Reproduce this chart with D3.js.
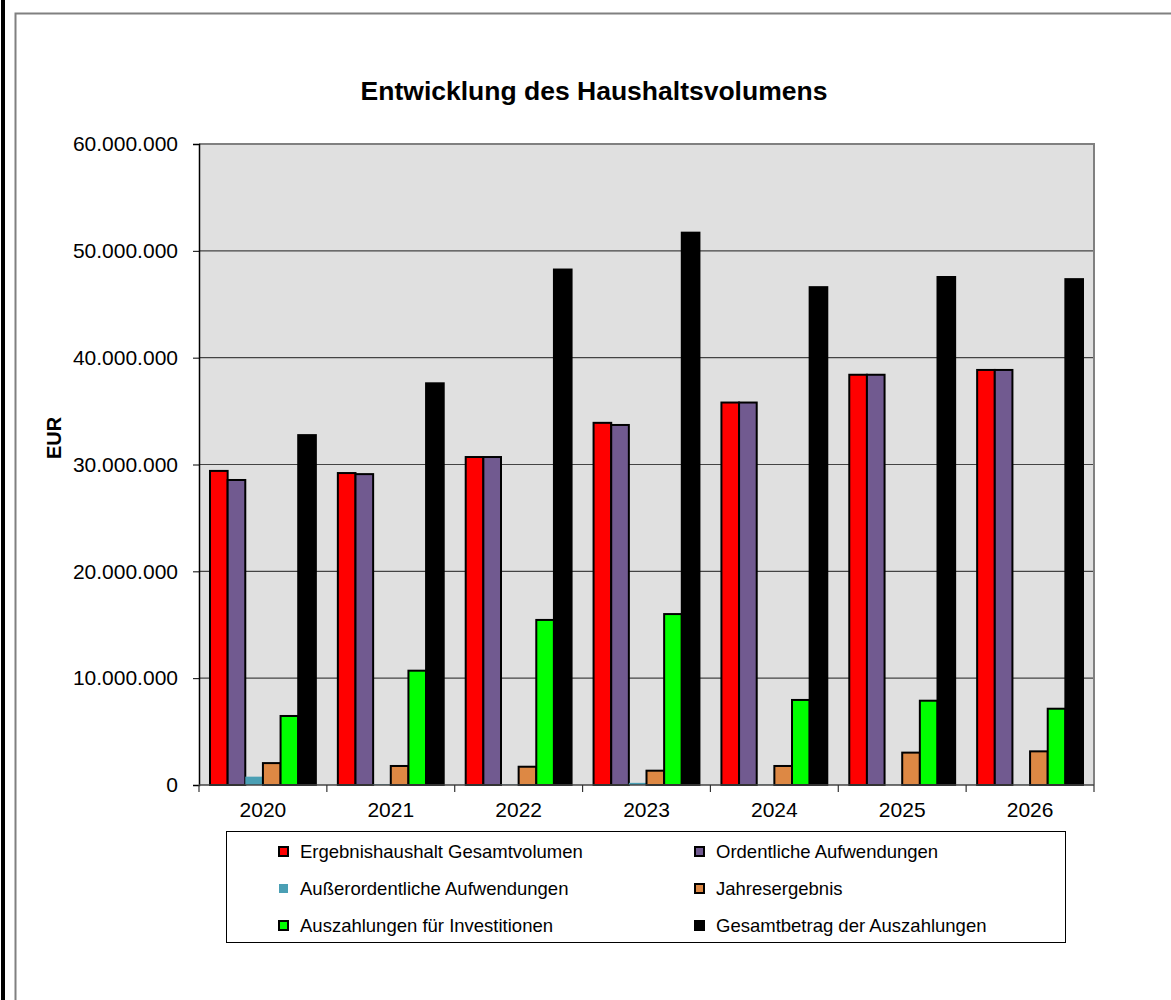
<!DOCTYPE html>
<html>
<head>
<meta charset="utf-8">
<script src="https://cdn.jsdelivr.net/npm/d3@7"></script>
<style>
  html, body { margin: 0; padding: 0; background: #fff; }
  svg { display: block; font-family: "Liberation Sans", Arial, sans-serif; }
</style>
</head>
<body>
<svg id="chart" width="1171" height="1000"></svg>
<script>
// Haushaltsjahre
const years = ["2020", "2021", "2022", "2023", "2024", "2025", "2026"];

// Reihen (EUR)
const ergebnishaushalt = [29400000, 29200000, 30700000, 33900000, 35800000, 38400000, 38850000];
const ordentlicheAufw  = [28550000, 29100000, 30700000, 33700000, 35800000, 38400000, 38850000];
const ausserordAufw    = [780000, 50000, 30000, 200000, 20000, 10000, 10000];
const jahresergebnis   = [2050000, 1780000, 1710000, 1340000, 1780000, 3030000, 3150000];
const investitionen    = [6460000, 10700000, 15450000, 16000000, 7960000, 7890000, 7140000];
const gesamtAuszahl    = [32750000, 37600000, 48250000, 51700000, 46600000, 47550000, 47350000];

const seriesNames = [
  "Ergebnishaushalt Gesamtvolumen",
  "Ordentliche Aufwendungen",
  "Außerordentliche Aufwendungen",
  "Jahresergebnis",
  "Auszahlungen für Investitionen",
  "Gesamtbetrag der Auszahlungen"
];
const seriesValues = [ergebnishaushalt, ordentlicheAufw, ausserordAufw, jahresergebnis, investitionen, gesamtAuszahl];
const seriesColors = ["#ff0000", "#715a90", "#4a9fb4", "#dd8844", "#00ff00", "#000000"];
const seriesStroke = [true, true, false, true, true, true];

const yTicks = [0, 10000000, 20000000, 30000000, 40000000, 50000000, 60000000];

const FONT = "Liberation Sans, Arial, sans-serif";
const svg = d3.select("#chart");

// outer frame
svg.append("rect").attr("x", 1).attr("y", 0).attr("width", 4).attr("height", 1000).attr("fill", "#000");
svg.append("path").attr("d", "M15.5,1000 V13.5 H1171")
  .attr("fill", "none").attr("stroke", "#808080").attr("stroke-width", 2);

const plot = { left: 199, top: 144, right: 1094, bottom: 785 };

const y = d3.scaleLinear().domain([0, 60000000]).range([plot.bottom, plot.top]);
const x0 = d3.scaleBand().domain(years).range([plot.left, plot.right]).padding(0);
const gapFrac = 0.086;
const x1 = d3.scaleBand().domain(d3.range(seriesNames.length))
  .range([x0.bandwidth() * gapFrac, x0.bandwidth() * (1 - gapFrac)]).padding(0);

// plot background
svg.append("rect")
  .attr("x", plot.left).attr("y", plot.top)
  .attr("width", plot.right - plot.left).attr("height", plot.bottom - plot.top)
  .attr("fill", "#e0e0e0");

// gridlines
svg.append("g").selectAll("line").data(yTicks.filter(d => d > 0 && d < 60000000)).join("line")
  .attr("x1", plot.left).attr("x2", plot.right)
  .attr("y1", d => y(d)).attr("y2", d => y(d))
  .attr("stroke", "#444").attr("stroke-width", 1.2);

// plot border top and right
svg.append("path")
  .attr("d", `M${plot.left},${plot.top} H${plot.right} V${plot.bottom}`)
  .attr("fill", "none").attr("stroke", "#808080").attr("stroke-width", 2);

// bars
const groups = svg.append("g").selectAll("g").data(years).join("g")
  .attr("transform", d => `translate(${x0(d)},0)`);

groups.selectAll("rect")
  .data((yr, i) => seriesValues.map((vals, s) => ({ s, v: vals[i] })))
  .join("rect")
  .attr("x", d => x1(d.s))
  .attr("width", x1.bandwidth())
  .attr("y", d => y(d.v))
  .attr("height", d => y(0) - y(d.v))
  .attr("fill", d => seriesColors[d.s])
  .attr("stroke", d => seriesStroke[d.s] ? "#000" : "none")
  .attr("stroke-width", 2);

// y axis
const yAxis = svg.append("g").attr("transform", `translate(${plot.left},0)`)
  .call(d3.axisLeft(y).tickValues(yTicks).tickSize(6).tickPadding(15)
    .tickFormat(d => d3.format(",")(d).replace(/,/g, ".")));
yAxis.select(".domain").attr("stroke", "#000").attr("stroke-width", 1.5);
yAxis.selectAll(".tick line").attr("stroke", "#000");
yAxis.selectAll("text").attr("font-size", 21).attr("fill", "#000").attr("font-family", FONT);

// x axis
const xAxis = svg.append("g").attr("transform", `translate(0,${plot.bottom})`)
  .call(d3.axisBottom(x0).tickSize(0).tickPadding(17));
xAxis.select(".domain").remove();
svg.append("line").attr("x1", plot.left).attr("x2", plot.right)
  .attr("y1", plot.bottom).attr("y2", plot.bottom)
  .attr("stroke", "#444").attr("stroke-width", 1.5);
svg.append("g").selectAll("line").data(years.concat(["end"])).join("line")
  .attr("x1", (d, i) => plot.left + i * x0.bandwidth())
  .attr("x2", (d, i) => plot.left + i * x0.bandwidth())
  .attr("y1", plot.bottom).attr("y2", plot.bottom + 7)
  .attr("stroke", "#333").attr("stroke-width", 1.2);
xAxis.selectAll("text").attr("font-size", 21).attr("fill", "#000").attr("font-family", FONT);

// title
svg.append("text").attr("x", 594).attr("y", 100).attr("text-anchor", "middle")
  .attr("font-size", 26.5).attr("font-weight", "bold").text("Entwicklung des Haushaltsvolumens");

// y axis title
svg.append("text").attr("transform", "translate(61,438) rotate(-90)")
  .attr("text-anchor", "middle").attr("font-size", 20).attr("font-weight", "bold").text("EUR");

// legend
const legend = svg.append("g");
legend.append("rect").attr("x", 226.5).attr("y", 831.5).attr("width", 839).attr("height", 111)
  .attr("fill", "#fff").attr("stroke", "#000").attr("stroke-width", 1);
const colX = [283, 699];
const rowY = [851, 888, 925];
const items = legend.selectAll("g").data(seriesNames).join("g")
  .attr("transform", (d, i) => `translate(${colX[i % 2]},${rowY[Math.floor(i / 2)]})`);
items.append("rect").attr("x", -4).attr("y", -4).attr("width", 9).attr("height", 9)
  .attr("fill", (d, i) => seriesColors[i])
  .attr("stroke", (d, i) => seriesStroke[i] ? "#000" : "none").attr("stroke-width", 2);
items.append("text").attr("x", 17).attr("y", 6.5).attr("font-size", 18.5).text(d => d);
</script>
</body>
</html>
